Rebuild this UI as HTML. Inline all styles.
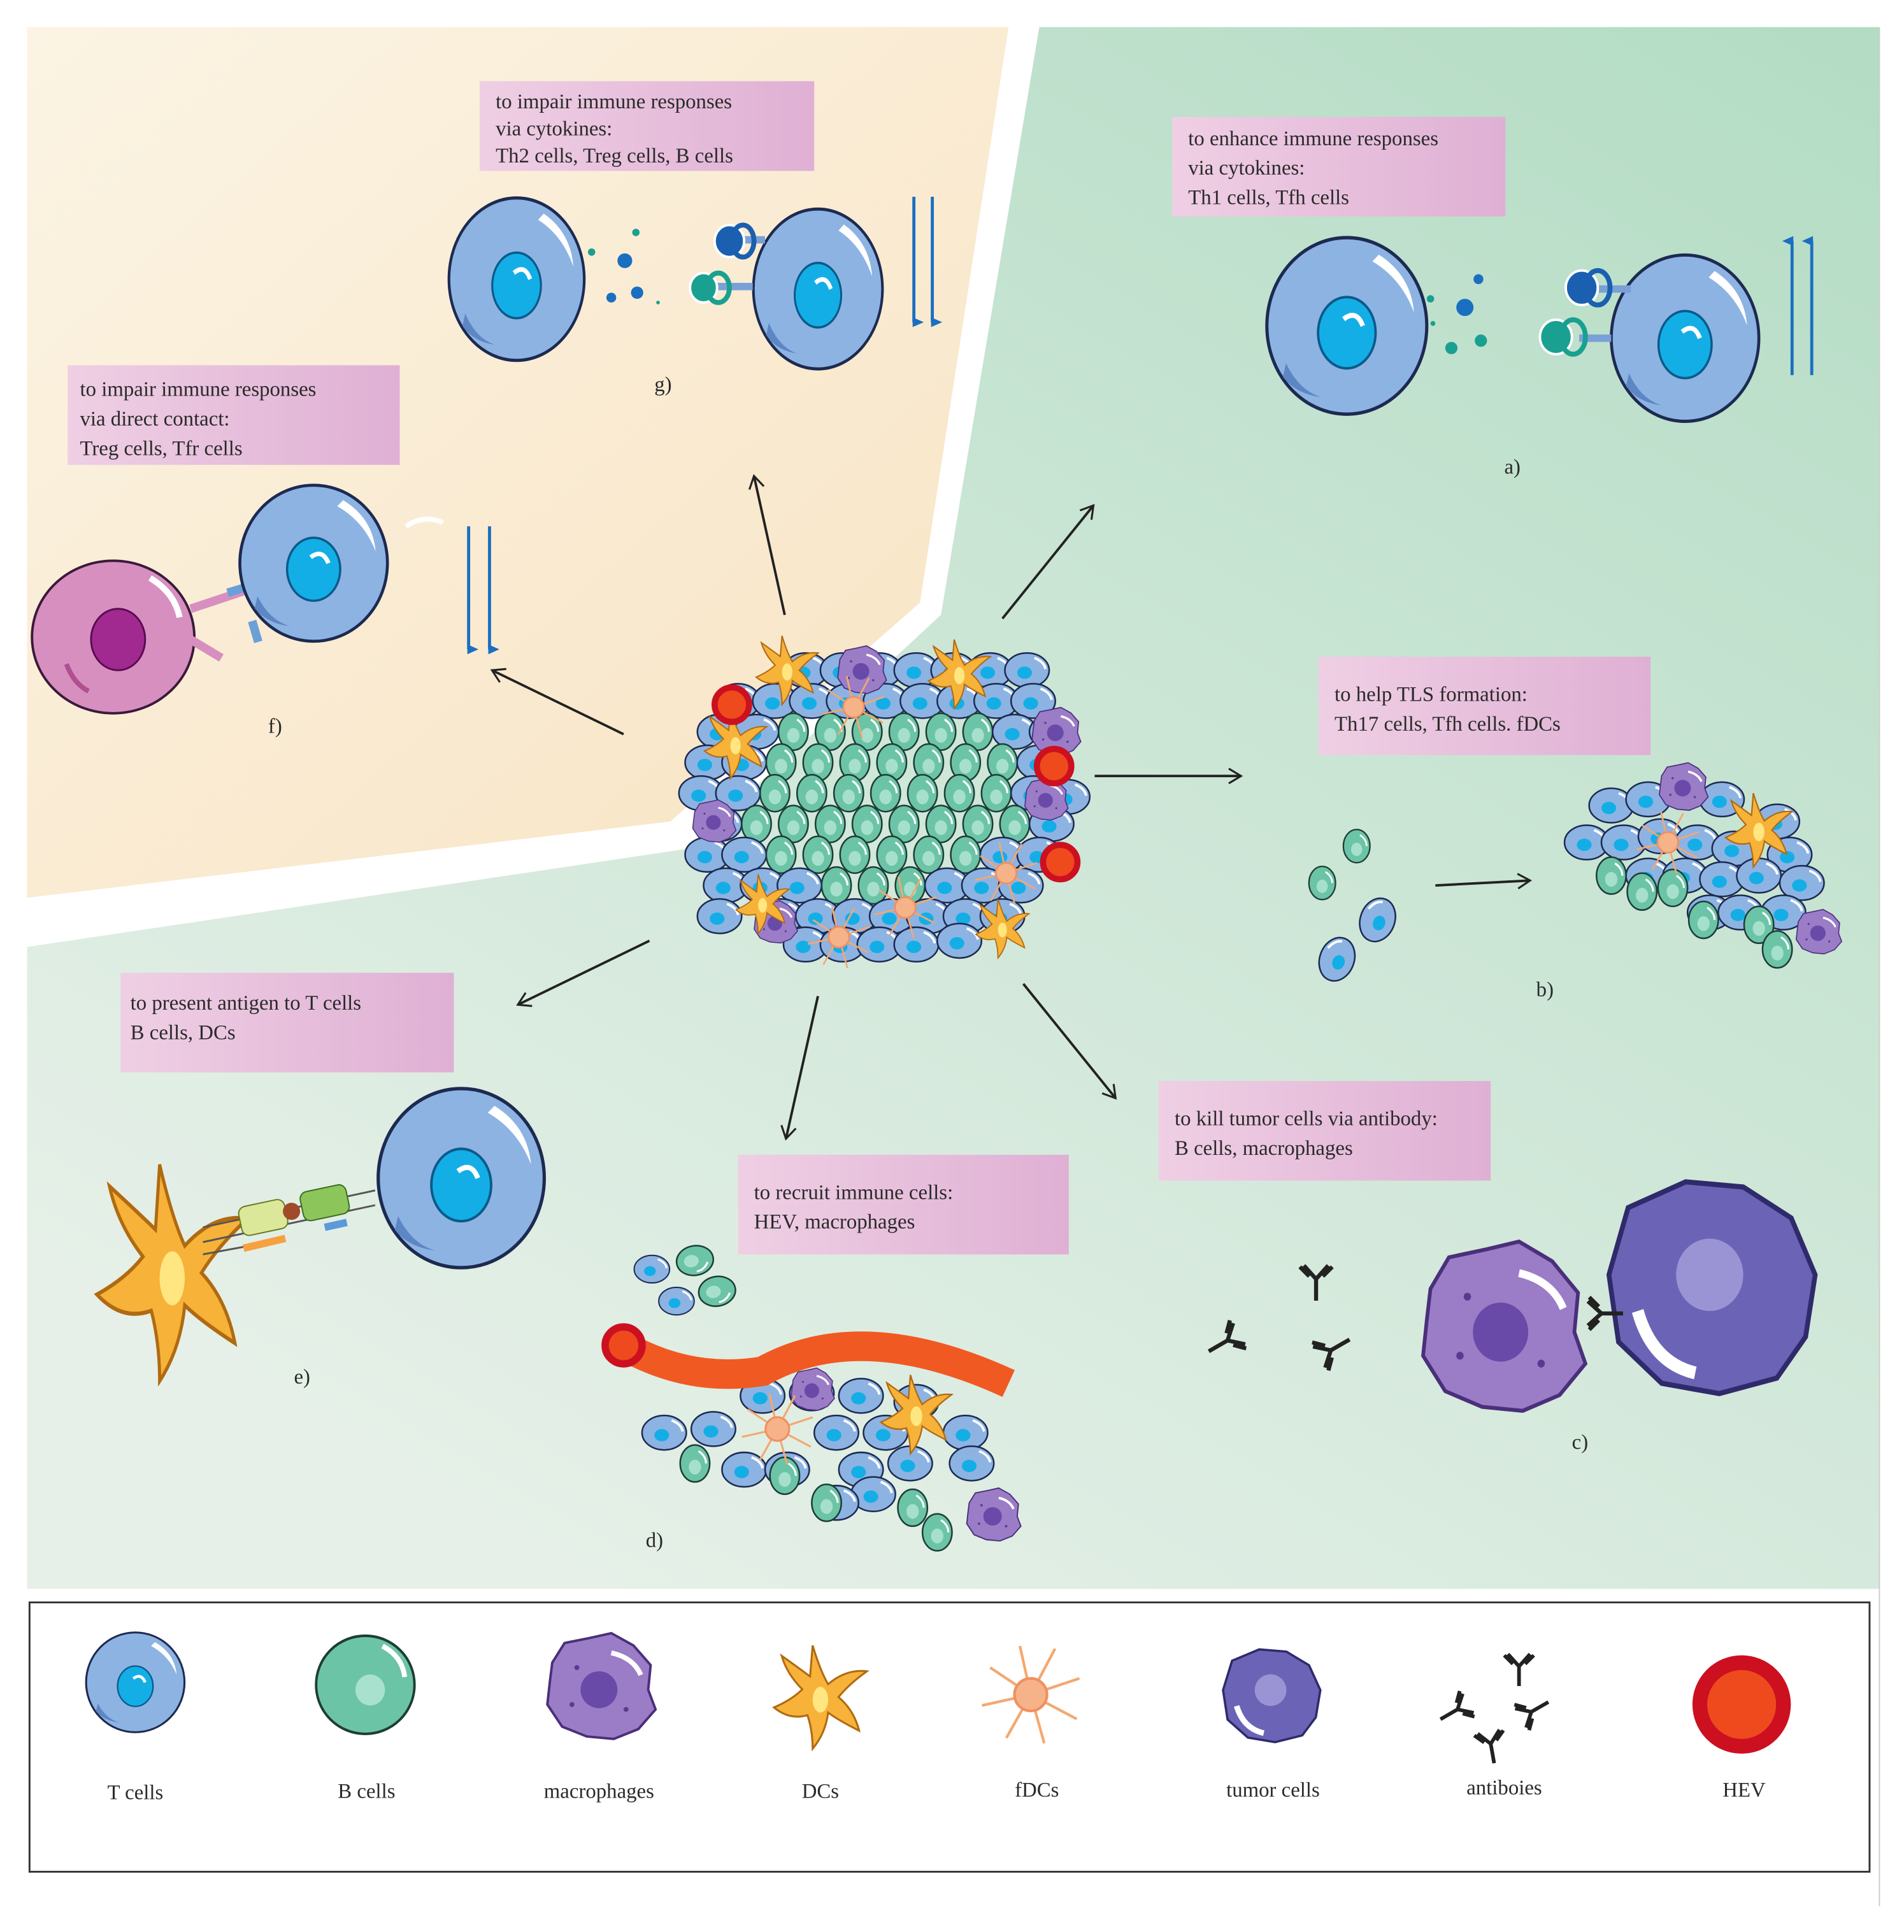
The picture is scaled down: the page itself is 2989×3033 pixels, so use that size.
<!DOCTYPE html>
<html><head><meta charset="utf-8"><style>
html,body{margin:0;padding:0;background:#fff;}
svg{display:block;}
text{font-family:"Liberation Serif",serif;font-size:17px;fill:#2a2a2a;}
</style></head><body>
<svg width="2989" height="3033" viewBox="0 0 1548 1571" preserveAspectRatio="none" xmlns="http://www.w3.org/2000/svg">
<defs>
<linearGradient id="gg" x1="1" y1="0" x2="0.3" y2="1"><stop offset="0" stop-color="#b3dcc4"/><stop offset="1" stop-color="#e6f0e8"/></linearGradient>
<linearGradient id="cg" x1="0" y1="0" x2="1" y2="1"><stop offset="0" stop-color="#fbf4e4"/><stop offset="1" stop-color="#f8e3c2"/></linearGradient>
<linearGradient id="pg" x1="0" y1="0" x2="1" y2="0"><stop offset="0" stop-color="#efcfe4"/><stop offset="1" stop-color="#dfb0d4"/></linearGradient>
<marker id="ar" markerWidth="14" markerHeight="14" refX="11" refY="7" orient="auto" markerUnits="userSpaceOnUse"><path d="M1,1 L11,7 L1,13" fill="none" stroke="#222" stroke-width="1.6"/></marker>
<marker id="ab" markerWidth="10" markerHeight="10" refX="5" refY="8" orient="auto" markerUnits="userSpaceOnUse"><path d="M1,9 L5,0 L9,9 Z" fill="#1a6fc0"/></marker>
<g id="tc"><ellipse rx="50" ry="52" fill="#8db3e3" stroke="#1d2a50" stroke-width="2"/><path d="M20,-42 Q40,-30 42,-8 Q34,-28 16,-38Z" fill="#fff"/><path d="M-38,22 Q-30,38 -16,42 Q-32,40 -40,30Z" fill="#5d86c4"/><ellipse cx="0" cy="4" rx="18" ry="21" fill="#14aee6" stroke="#0b5a8a" stroke-width="1.5"/><path d="M-2,-4 Q6,-10 10,0" fill="none" stroke="#fff" stroke-width="3"/></g>
<g id="sc"><ellipse rx="18" ry="14" fill="#8db3e3" stroke="#1d2a50" stroke-width="1.3"/><ellipse cx="-2" cy="2" rx="6" ry="5" fill="#14aee6"/><path d="M6,-10 Q14,-7 15,-1" fill="none" stroke="#fff" stroke-width="2"/></g>
<g id="gc"><ellipse rx="12" ry="15" fill="#6cc4a6" stroke="#1e3d37" stroke-width="1.3"/><ellipse cx="0" cy="3" rx="5" ry="6" fill="#a6e0cc"/><path d="M3,-10 Q9,-6 9,0" fill="none" stroke="#fff" stroke-width="1.6"/></g>
<g id="bc"><ellipse rx="40" ry="38" fill="#6cc4a6" stroke="#1e3d37" stroke-width="2"/><circle cx="4" cy="4" r="12" fill="#a8e2cf"/><path d="M14,-30 Q30,-22 32,-6" fill="none" stroke="#fff" stroke-width="4"/></g>
<g id="mac"><path d="M-38,-20 L-28,-36 L-8,-40 L10,-44 L28,-34 L42,-18 L40,2 L46,18 L32,34 L12,42 L-10,40 L-30,32 L-42,14 L-40,-4Z" fill="#9b7cc6" stroke="#4a2f7a" stroke-width="2"/><circle cx="0" cy="2" r="15" fill="#6a4aa8"/><path d="M10,-28 Q28,-24 34,-10" fill="none" stroke="#fff" stroke-width="4"/><circle cx="-22" cy="14" r="2" fill="#5a3a90"/><circle cx="22" cy="18" r="2" fill="#5a3a90"/><circle cx="-18" cy="-16" r="2" fill="#5a3a90"/></g>
<g id="tum"><path d="M-34,-30 L-10,-40 L14,-38 L34,-26 L44,-4 L40,20 L28,36 L4,42 L-20,38 L-38,22 L-42,-4Z" fill="#6b63b6" stroke="#2f2a6a" stroke-width="2"/><circle cx="0" cy="-4" r="14" fill="#9a94d4"/><path d="M-30,10 Q-24,30 -6,34" fill="none" stroke="#fff" stroke-width="5"/></g>
<g id="dc"><path d="M-6,-40 Q0,-20 6,-10 Q20,-22 36,-20 Q22,-10 14,0 Q26,10 30,26 Q14,18 6,12 Q4,28 -6,40 Q-6,26 -10,14 Q-24,18 -36,8 Q-22,2 -14,-6 Q-26,-18 -30,-32 Q-16,-22 -8,-16Z" fill="#f7b23a" stroke="#b06a10" stroke-width="1.5"/><ellipse cx="0" cy="2" rx="6" ry="10" fill="#ffe680"/></g>
<g id="fdc" stroke="#f3a870" stroke-width="2" fill="none"><path d="M0,0 L-30,-20 M0,0 L-8,-36 M0,0 L18,-34 M0,0 L36,-12 M0,0 L34,18 M0,0 L10,36 M0,0 L-18,32 M0,0 L-36,8"/><circle r="12" fill="#f6b38a" stroke="#f09060"/></g>
<g id="anti" stroke="#222" stroke-width="3" fill="none"><path d="M0,0 L0,16 M0,0 L-9,-10 M0,0 L9,-10 M-5,-2 L-12,-9 M5,-2 L12,-9"/></g>
<g id="hev"><circle r="14" fill="#ee4a1e" stroke="#cc1020" stroke-width="5"/></g>
</defs>

<rect width="1548" height="1571" fill="#fff"/>
<polygon points="22,22 820,22 748,490 545,668 22,730" fill="url(#cg)"/>
<polygon points="845,22 1528,22 1528,1292 22,1292 22,770 560,690 765,500" fill="url(#gg)"/>
<line x1="1528" y1="22" x2="1528" y2="1550" stroke="#ccc" stroke-width="1"/>

<!-- labels -->
<rect x="390" y="66" width="272" height="73" fill="url(#pg)"/>
<text x="403" y="88">to  impair immune responses</text><text x="403" y="110">via cytokines:</text><text x="403" y="132">Th2 cells, Treg cells, B cells</text>
<rect x="953" y="95" width="271" height="81" fill="url(#pg)"/>
<text x="966" y="118">to  enhance immune responses</text><text x="966" y="142">via cytokines:</text><text x="966" y="166">Th1 cells, Tfh cells</text>
<rect x="55" y="297" width="270" height="81" fill="url(#pg)"/>
<text x="65" y="322">to impair immune responses</text><text x="65" y="346">via direct contact:</text><text x="65" y="370">Treg cells, Tfr cells</text>
<rect x="1072" y="534" width="270" height="80" fill="url(#pg)"/>
<text x="1085" y="570">to help TLS formation:</text><text x="1085" y="594">Th17 cells, Tfh cells. fDCs</text>
<rect x="98" y="791" width="271" height="81" fill="url(#pg)"/>
<text x="106" y="821">to present antigen to T cells</text><text x="106" y="845">B cells, DCs</text>
<rect x="600" y="939" width="269" height="81" fill="url(#pg)"/>
<text x="613" y="975">to recruit  immune cells:</text><text x="613" y="999">HEV, macrophages</text>
<rect x="942" y="879" width="270" height="81" fill="url(#pg)"/>
<text x="955" y="915">to kill tumor cells via antibody:</text><text x="955" y="939">B cells, macrophages</text>

<!-- arrows -->
<g stroke="#222" stroke-width="2" marker-end="url(#ar)">
<line x1="638" y1="500" x2="613" y2="387"/>
<line x1="815" y1="503" x2="889" y2="411"/>
<line x1="890" y1="631" x2="1009" y2="631"/>
<line x1="507" y1="597" x2="400" y2="545"/>
<line x1="528" y1="765" x2="421" y2="817"/>
<line x1="665" y1="810" x2="639" y2="926"/>
<line x1="832" y1="800" x2="907" y2="893"/>
<line x1="1167" y1="720" x2="1244" y2="716"/>
</g>
<g stroke="#1a6fc0" stroke-width="2.5">
<line x1="743" y1="160" x2="743" y2="262" marker-end="url(#ab)"/><line x1="758" y1="160" x2="758" y2="262" marker-end="url(#ab)"/>
<line x1="1457" y1="305" x2="1457" y2="196" marker-end="url(#ab)"/><line x1="1473" y1="305" x2="1473" y2="196" marker-end="url(#ab)"/>
<line x1="381" y1="428" x2="381" y2="528" marker-end="url(#ab)"/><line x1="398" y1="428" x2="398" y2="528" marker-end="url(#ab)"/>
</g>

<!-- central cluster -->
<g>
<use href="#sc" x="655" y="545"/><use href="#sc" x="685" y="545"/><use href="#sc" x="715" y="545"/><use href="#sc" x="745" y="545"/><use href="#sc" x="775" y="545"/><use href="#sc" x="805" y="545"/><use href="#sc" x="835" y="545"/>
<use href="#sc" x="600" y="570"/><use href="#sc" x="630" y="570"/><use href="#sc" x="660" y="570"/><use href="#sc" x="690" y="570"/><use href="#sc" x="720" y="570"/><use href="#sc" x="750" y="570"/><use href="#sc" x="780" y="570"/><use href="#sc" x="810" y="570"/><use href="#sc" x="840" y="570"/>
<use href="#sc" x="585" y="595"/><use href="#sc" x="615" y="595"/><use href="#gc" x="645" y="595"/><use href="#gc" x="675" y="595"/><use href="#gc" x="705" y="595"/><use href="#gc" x="735" y="595"/><use href="#gc" x="765" y="595"/><use href="#gc" x="795" y="595"/><use href="#sc" x="825" y="595"/><use href="#sc" x="855" y="595"/>
<use href="#sc" x="575" y="620"/><use href="#sc" x="605" y="620"/><use href="#gc" x="635" y="620"/><use href="#gc" x="665" y="620"/><use href="#gc" x="695" y="620"/><use href="#gc" x="725" y="620"/><use href="#gc" x="755" y="620"/><use href="#gc" x="785" y="620"/><use href="#gc" x="815" y="620"/><use href="#sc" x="845" y="620"/>
<use href="#sc" x="570" y="645"/><use href="#sc" x="600" y="645"/><use href="#gc" x="630" y="645"/><use href="#gc" x="660" y="645"/><use href="#gc" x="690" y="645"/><use href="#gc" x="720" y="645"/><use href="#gc" x="750" y="645"/><use href="#gc" x="780" y="645"/><use href="#gc" x="810" y="645"/><use href="#sc" x="840" y="645"/><use href="#sc" x="868" y="648"/>
<use href="#sc" x="585" y="670"/><use href="#gc" x="615" y="670"/><use href="#gc" x="645" y="670"/><use href="#gc" x="675" y="670"/><use href="#gc" x="705" y="670"/><use href="#gc" x="735" y="670"/><use href="#gc" x="765" y="670"/><use href="#gc" x="795" y="670"/><use href="#gc" x="825" y="670"/><use href="#sc" x="855" y="670"/>
<use href="#sc" x="575" y="695"/><use href="#sc" x="605" y="695"/><use href="#gc" x="635" y="695"/><use href="#gc" x="665" y="695"/><use href="#gc" x="695" y="695"/><use href="#gc" x="725" y="695"/><use href="#gc" x="755" y="695"/><use href="#gc" x="785" y="695"/><use href="#sc" x="815" y="695"/><use href="#sc" x="845" y="695"/>
<use href="#sc" x="590" y="720"/><use href="#sc" x="620" y="720"/><use href="#sc" x="650" y="720"/><use href="#gc" x="680" y="720"/><use href="#gc" x="710" y="720"/><use href="#gc" x="740" y="720"/><use href="#sc" x="770" y="720"/><use href="#sc" x="800" y="720"/><use href="#sc" x="830" y="720"/>
<use href="#sc" x="585" y="745"/><use href="#sc" x="635" y="745"/><use href="#sc" x="665" y="745"/><use href="#sc" x="695" y="745"/><use href="#sc" x="725" y="745"/><use href="#sc" x="755" y="745"/><use href="#sc" x="785" y="745"/><use href="#sc" x="815" y="745"/>
<use href="#sc" x="655" y="768"/><use href="#sc" x="685" y="768"/><use href="#sc" x="715" y="768"/><use href="#sc" x="745" y="768"/><use href="#sc" x="780" y="765"/>
<g transform="translate(700,545) scale(0.45)"><use href="#mac"/></g>
<g transform="translate(858,595) scale(0.45)"><use href="#mac"/></g>
<g transform="translate(850,650) scale(0.4)"><use href="#mac"/></g>
<g transform="translate(580,668) scale(0.4)"><use href="#mac"/></g>
<g transform="translate(630,750) scale(0.4)"><use href="#mac"/></g>
<g transform="translate(640,545) scale(0.7)"><use href="#dc"/></g>
<g transform="translate(780,548) scale(0.7)"><use href="#dc"/></g>
<g transform="translate(598,605) scale(0.7)"><use href="#dc"/></g>
<g transform="translate(620,735) scale(0.6)"><use href="#dc"/></g>
<g transform="translate(815,755) scale(0.6)"><use href="#dc"/></g>
<g transform="translate(694,575) scale(0.7)"><use href="#fdc"/></g>
<g transform="translate(818,710) scale(0.7)"><use href="#fdc"/></g>
<g transform="translate(736,738) scale(0.7)"><use href="#fdc"/></g>
<g transform="translate(682,762) scale(0.7)"><use href="#fdc"/></g>
<use href="#hev" x="595" y="573"/><use href="#hev" x="857" y="623"/><use href="#hev" x="862" y="701"/>
</g>

<!-- panel g -->
<g transform="translate(420,227) scale(1.1,1.27)"><use href="#tc"/></g>
<g transform="translate(665,235) scale(1.05,1.25)"><use href="#tc"/></g>
<circle cx="508" cy="212" r="6" fill="#1a6fc0"/><circle cx="518" cy="238" r="5" fill="#1a6fc0"/><circle cx="497" cy="242" r="4" fill="#1a6fc0"/><circle cx="517" cy="189" r="3" fill="#1aa090"/><circle cx="481" cy="205" r="3" fill="#1aa090"/><circle cx="535" cy="246" r="1.5" fill="#1aa090"/>
<rect x="596" y="192" width="26" height="6" fill="#7aa0d8"/><ellipse cx="593" cy="196" rx="12" ry="13" fill="#1a5fb0" stroke="#fff" stroke-width="2"/><ellipse cx="604" cy="196" rx="9" ry="13" fill="none" stroke="#1a5fb0" stroke-width="4"/>
<rect x="582" y="230" width="30" height="6" fill="#7aa0d8"/><ellipse cx="572" cy="234" rx="11" ry="12" fill="#1aa090" stroke="#fff" stroke-width="2"/><ellipse cx="584" cy="234" rx="9" ry="12" fill="none" stroke="#1aa090" stroke-width="4"/>
<text x="532" y="318">g)</text>

<!-- panel a -->
<g transform="translate(1095,265) scale(1.3,1.38)"><use href="#tc"/></g>
<g transform="translate(1370,275) scale(1.2,1.3)"><use href="#tc"/></g>
<circle cx="1191" cy="250" r="7" fill="#1a6fc0"/><circle cx="1202" cy="227" r="4" fill="#1a6fc0"/><circle cx="1180" cy="283" r="5" fill="#1aa090"/><circle cx="1204" cy="277" r="5" fill="#1aa090"/><circle cx="1163" cy="243" r="3" fill="#1aa090"/><circle cx="1165" cy="263" r="2" fill="#1aa090"/>
<rect x="1300" y="232" width="26" height="6" fill="#7aa0d8"/><ellipse cx="1286" cy="234" rx="13" ry="14" fill="#1a5fb0" stroke="#fff" stroke-width="2"/><ellipse cx="1299" cy="234" rx="10" ry="14" fill="none" stroke="#1a5fb0" stroke-width="4"/>
<rect x="1284" y="272" width="26" height="6" fill="#7aa0d8"/><ellipse cx="1265" cy="274" rx="13" ry="14" fill="#1aa090" stroke="#fff" stroke-width="2"/><ellipse cx="1279" cy="274" rx="10" ry="14" fill="none" stroke="#1aa090" stroke-width="4"/>
<text x="1223" y="385">a)</text>

<!-- panel f -->
<g transform="translate(92,518)"><ellipse rx="66" ry="62" fill="#d78fc0" stroke="#3a1a3a" stroke-width="2"/><ellipse cx="4" cy="2" rx="22" ry="25" fill="#a02a90" stroke="#5a0a50" stroke-width="1.5"/><path d="M30,-48 Q50,-36 54,-16" fill="none" stroke="#fff" stroke-width="5"/><path d="M-38,22 Q-32,38 -20,44" fill="none" stroke="#b05090" stroke-width="4"/></g>
<path d="M155,495 L200,480 M155,520 L180,535" stroke="#d78fc0" stroke-width="7"/>
<path d="M185,482 L205,476 M205,505 L210,522" stroke="#6aa0d8" stroke-width="7"/>
<g transform="translate(255,458) scale(1.2,1.22)"><use href="#tc"/></g>
<path d="M330,428 Q345,418 360,425" fill="none" stroke="#fff" stroke-width="4"/>
<text x="218" y="596">f)</text>

<!-- panel b -->
<g transform="translate(1075,718) scale(0.9)"><use href="#gc"/></g>
<g transform="translate(1103,688) scale(0.9)"><use href="#gc"/></g>
<g transform="translate(1120,748) scale(1)"><use href="#sc" transform="rotate(-70)"/></g>
<g transform="translate(1087,780)"><use href="#sc" transform="rotate(-70)"/></g>
<g>
<use href="#sc" x="1310" y="655"/><use href="#sc" x="1340" y="650"/><use href="#sc" x="1400" y="650"/><use href="#sc" x="1445" y="668"/>
<use href="#sc" x="1290" y="685"/><use href="#sc" x="1320" y="685"/><use href="#sc" x="1350" y="680"/><use href="#sc" x="1380" y="685"/><use href="#sc" x="1410" y="690"/><use href="#sc" x="1455" y="695"/>
<use href="#sc" x="1340" y="712"/><use href="#sc" x="1370" y="712"/><use href="#sc" x="1400" y="715"/><use href="#sc" x="1430" y="712"/><use href="#sc" x="1465" y="718"/>
<use href="#gc" x="1310" y="712"/><use href="#gc" x="1335" y="725"/><use href="#gc" x="1360" y="722"/><use href="#sc" x="1390" y="742"/><use href="#sc" x="1415" y="742"/><use href="#sc" x="1450" y="742"/>
<use href="#gc" x="1385" y="748"/><use href="#gc" x="1430" y="752"/><use href="#gc" x="1445" y="772"/>
<g transform="translate(1368,640) scale(0.45)"><use href="#mac"/></g>
<g transform="translate(1478,758) scale(0.42)"><use href="#mac"/></g>
<g transform="translate(1430,675) scale(0.75)"><use href="#dc"/></g>
<g transform="translate(1356,685) scale(0.7)"><use href="#fdc"/></g>
</g>
<text x="1249" y="810">b)</text>

<!-- panel e -->
<g transform="translate(375,958) scale(1.35,1.4)"><use href="#tc"/></g>
<g transform="translate(140,1035) scale(1.7,2.2)"><use href="#dc"/></g>
<path d="M165,998 L305,968 M165,1010 L305,980 M165,1020 L230,1008" stroke="#555" stroke-width="1.5"/>
<rect x="195" y="978" width="38" height="24" rx="6" fill="#dbe89a" stroke="#6a7a20" transform="rotate(-12 214 990)"/>
<rect x="245" y="966" width="38" height="24" rx="6" fill="#8cc65a" stroke="#3a6a20" transform="rotate(-12 264 978)"/>
<circle cx="237" cy="985" r="7" fill="#a04a2a"/>
<path d="M198,1015 L232,1007" stroke="#f7a040" stroke-width="6"/><path d="M264,998 L282,994" stroke="#5a9ad8" stroke-width="6"/>
<text x="239" y="1125">e)</text>

<!-- panel d -->
<g transform="translate(530,1032) scale(0.8)"><use href="#sc"/></g><g transform="translate(565,1025)"><use href="#gc" transform="rotate(80)"/></g><g transform="translate(550,1058) scale(0.8)"><use href="#sc"/></g><g transform="translate(583,1050)"><use href="#gc" transform="rotate(80)"/></g>
<g>
<use href="#sc" x="620" y="1135"/><use href="#sc" x="660" y="1133"/><use href="#sc" x="700" y="1135"/><use href="#sc" x="745" y="1140"/>
<use href="#sc" x="540" y="1165"/><use href="#sc" x="580" y="1162"/><use href="#sc" x="680" y="1165"/><use href="#sc" x="720" y="1165"/><use href="#sc" x="785" y="1165"/>
<use href="#sc" x="605" y="1195"/><use href="#sc" x="640" y="1195"/><use href="#sc" x="700" y="1195"/><use href="#sc" x="740" y="1190"/><use href="#sc" x="790" y="1190"/>
<use href="#gc" x="565" y="1190"/><use href="#gc" x="638" y="1200"/><use href="#sc" x="710" y="1215"/><use href="#sc" x="680" y="1222"/><use href="#gc" x="672" y="1222"/><use href="#gc" x="742" y="1226"/><use href="#gc" x="762" y="1246"/>
<g transform="translate(807,1232) scale(0.5)"><use href="#mac"/></g>
<g transform="translate(660,1130) scale(0.4)"><use href="#mac"/></g>
<g transform="translate(745,1150) scale(0.8)"><use href="#dc"/></g>
<g transform="translate(632,1162) scale(0.8)"><use href="#fdc"/></g>
</g>
<path d="M505,1093 Q560,1125 620,1115 Q700,1070 820,1125" fill="none" stroke="#f05a22" stroke-width="24"/>
<circle cx="507" cy="1094" r="15" fill="#ee4a1e" stroke="#cc1020" stroke-width="6"/>
<text x="525" y="1258">d)</text>

<!-- panel c -->
<g transform="translate(1220,1080) scale(1.5,1.6)"><use href="#mac"/></g>
<g transform="translate(1390,1045) scale(1.95,2.1)"><use href="#tum"/></g>
<g transform="translate(1070,1040) scale(1.1)"><use href="#anti"/></g>
<g transform="translate(998,1090) rotate(60) scale(1.1)"><use href="#anti"/></g>
<g transform="translate(1082,1098) rotate(-120) scale(1.1)"><use href="#anti"/></g>
<g transform="translate(1302,1068) rotate(-90) scale(1.1)"><use href="#anti"/></g>
<text x="1278" y="1178">c)</text>

<!-- legend -->
<rect x="24" y="1303" width="1496" height="219" fill="#fff" stroke="#333" stroke-width="1.5"/>
<g transform="translate(110,1368) scale(0.8,0.78)"><use href="#tc"/></g>
<g transform="translate(297,1370) scale(1,1.05)"><use href="#bc"/></g>
<g transform="translate(487,1372)"><use href="#mac"/></g>
<g transform="translate(667,1380) scale(1.05)"><use href="#dc"/></g>
<g transform="translate(838,1378) scale(1.1)"><use href="#fdc"/></g>
<g transform="translate(1033,1378) scale(0.92)"><use href="#tum"/></g>
<g transform="translate(1235,1355)"><use href="#anti"/></g><g transform="translate(1185,1390) rotate(60)"><use href="#anti"/></g><g transform="translate(1245,1392) rotate(-120)"><use href="#anti"/></g><g transform="translate(1212,1418) rotate(-10)"><use href="#anti"/></g>
<circle cx="1416" cy="1386" r="34" fill="#ee4a1e" stroke="#cc1020" stroke-width="12"/>
<g text-anchor="middle" style="font-size:20px">
<text x="110" y="1463">T cells</text><text x="298" y="1462">B cells</text><text x="487" y="1462">macrophages</text><text x="667" y="1462">DCs</text><text x="843" y="1461">fDCs</text><text x="1035" y="1461">tumor cells</text><text x="1223" y="1459">antiboies</text><text x="1418" y="1461">HEV</text>
</g>
</svg>
</body></html>
